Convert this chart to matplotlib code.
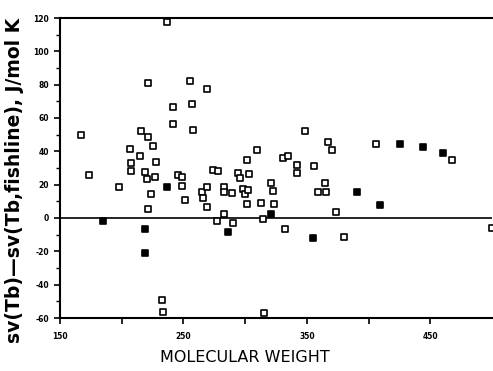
import matplotlib
matplotlib.use("Agg")
import matplotlib.pyplot as plt
from matplotlib.ticker import MultipleLocator, FixedLocator

# Open squares (molecular weight, deviation)
open_mw = [167.0, 173.5, 197.8, 206.7, 207.5, 207.5, 214.8, 215.6, 221.3, 225.3,
           227.8, 218.9, 220.5, 227.0, 223.7, 221.3, 221.3, 236.7, 241.5, 241.5,
           255.3, 256.9, 257.8, 269.1, 245.6, 248.8, 248.8, 251.3, 265.0, 269.1,
           265.9, 269.1, 274.0, 278.0, 282.9, 282.9, 289.3, 294.2, 295.8, 298.3,
           299.9, 302.3, 301.5, 301.5, 303.1, 309.6, 277.2, 282.9, 290.2, 320.9,
           322.6, 312.8, 323.4, 314.5, 332.3, 348.5, 367.1, 370.4, 330.7, 334.7,
           342.0, 342.0, 355.8, 364.7, 359.0, 365.5, 373.6, 380.1, 406.0, 467.6,
           232.6, 233.4, 315.3, 500.0]
open_dev = [49.5, 25.5, 18.3, 41.1, 32.7, 27.9, 36.9, 51.9, 48.3, 42.9,
            33.3, 27.3, 23.1, 24.3, 14.1, 5.1, 80.7, 117.3, 66.3, 56.1,
            81.9, 68.1, 52.5, 77.1, 25.5, 24.3, 18.9, 10.5, 15.3, 18.3,
            11.7, 6.3, 28.5, 27.9, 18.3, 15.3, 14.7, 26.7, 23.7, 17.1,
            14.1, 16.5, 8.1, 34.5, 26.1, 40.5, -2.1, 2.1, -3.3, 20.7,
            15.9, 8.7, 8.1, -0.9, -6.9, 51.9, 45.3, 40.5, 35.7, 36.9,
            31.5, 26.7, 30.9, 20.7, 15.3, 15.3, 3.3, -11.7, 44.1, 34.5,
            -48.9, -56.1, -56.7, -6.3]

# Filled squares
filled_mw = [184.8, 218.9, 218.9, 236.7, 286.1, 320.9, 355.0, 390.6, 409.3,
             425.5, 444.1, 460.3]
filled_dev = [-2.1, -6.9, -21.3, 18.3, -8.7, 2.1, -12.3, 15.3, 7.5,
              44.1, 42.3, 38.7]

x_ticks = [150, 200, 250, 300, 350, 400, 450]
x_labels = ["150", "", "250", "", "350", "", "450"]
y_ticks = [-60, -40, -20, 0, 20, 40, 60, 80, 100, 120]
y_labels = ["-60", "-40", "-20", "0", "20", "40", "60", "80", "100", "120"]

fig = plt.figure(figsize=(4.93, 3.71), dpi=100)
ax = fig.add_axes([60 / 493, 1 - 318 / 371, 432 / 493, 300 / 371])

ax.scatter(open_mw, open_dev, marker="s", s=20, facecolors="white",
           edgecolors="black", linewidths=1.2, zorder=3)
ax.scatter(filled_mw, filled_dev, marker="s", s=20, facecolors="black",
           edgecolors="black", linewidths=1.2, zorder=3)

ax.axhline(0, color="black", lw=1.2, zorder=2)

ax.set_xlim(150, 500)
ax.set_ylim(-60, 120)

ax.xaxis.set_major_locator(FixedLocator(x_ticks))
ax.set_xticklabels(x_labels)
ax.yaxis.set_major_locator(FixedLocator(y_ticks))
ax.set_yticklabels(y_labels)
ax.yaxis.set_minor_locator(MultipleLocator(10))

for lab in ax.get_xticklabels() + ax.get_yticklabels():
    lab.set_fontsize(5.5)
    lab.set_fontweight("bold")

ax.tick_params(axis="both", which="major", direction="out", length=4,
               width=1.2, pad=4)
ax.tick_params(axis="y", which="minor", direction="out", length=3, width=1.0)
ax.tick_params(axis="x", which="major", pad=6)

for side in ["left", "top", "bottom"]:
    ax.spines[side].set_linewidth(1.5)
ax.spines["right"].set_visible(False)

fig.text(245 / 493, 1 - 357 / 371, "MOLECULAR WEIGHT", ha="center",
         va="center", fontsize=11.5)
fig.text(15 / 493, 1 - 180 / 371, "sv(Tb)\u2014sv(Tb,fishline), J/mol K",
         rotation=90, ha="center", va="center", fontsize=13.5,
         fontweight="bold")

fig.savefig("out.png", dpi=100)
